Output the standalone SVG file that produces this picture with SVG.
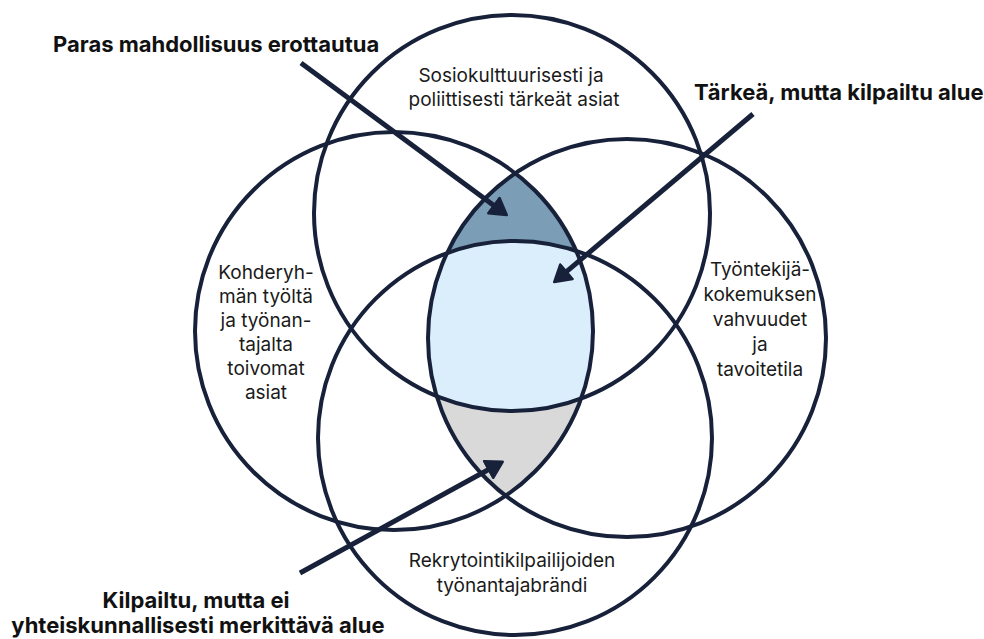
<svg xmlns="http://www.w3.org/2000/svg" width="984" height="639" viewBox="0 0 984 639">
  <style>
    .ring { fill: none; stroke: #18213a; stroke-width: 4; }
    .lbl { font-family: Inter, "Liberation Sans", sans-serif; font-size: 19px; fill: #1a1a1a; text-anchor: middle; letter-spacing: 0px; }
    .call { font-family: Inter, "Liberation Sans", sans-serif; font-size: 22px; font-weight: 700; fill: #111111; letter-spacing: 0px; }
    .arrow { stroke: #18213a; stroke-width: 5; fill: none; marker-end: url(#head); }
  </style>
  <defs>
    <marker id="head" viewBox="0 0 19 22" markerUnits="userSpaceOnUse" markerWidth="19" markerHeight="22" refX="1" refY="11" orient="auto">
      <path d="M1.5,1.5 L17.5,11 L1.5,20.5 Z" fill="#18213a" stroke="#18213a" stroke-width="2.5" stroke-linejoin="round"/>
    </marker>
    <clipPath id="cT"><circle cx="512" cy="213" r="198"/></clipPath>
    <clipPath id="cL"><circle cx="394" cy="331" r="199"/></clipPath>
    <clipPath id="cR"><circle cx="627" cy="338" r="199"/></clipPath>
    <clipPath id="cB"><circle cx="515" cy="438" r="197"/></clipPath>
  </defs>
  <rect width="984" height="639" fill="#ffffff"/>

  <g id="regions" clip-path="url(#cL)">
    <g clip-path="url(#cR)">
      <g clip-path="url(#cT)"><rect x="300" y="100" width="400" height="450" fill="#7b9db6"/></g>
      <g clip-path="url(#cB)"><rect x="300" y="100" width="400" height="450" fill="#d9d9d9"/></g>
      <g clip-path="url(#cT)"><g clip-path="url(#cB)"><rect x="300" y="100" width="400" height="450" fill="#daeefc"/></g></g>
    </g>
  </g>

  <g id="top-circle">
    <circle class="ring" cx="512" cy="213" r="198"/>
    <text class="lbl" x="511" y="82">Sosiokulttuurisesti ja</text>
    <text class="lbl" x="514" y="106">poliittisesti tärkeät asiat</text>
  </g>
  <g id="left-circle">
    <circle class="ring" cx="394" cy="331" r="199"/>
    <text class="lbl" x="266" y="279">Kohderyh-</text>
    <text class="lbl" x="266" y="303">män työltä</text>
    <text class="lbl" x="266" y="327">ja työnan-</text>
    <text class="lbl" x="266" y="351">tajalta</text>
    <text class="lbl" x="266" y="375">toivomat</text>
    <text class="lbl" x="266" y="399">asiat</text>
  </g>
  <g id="right-circle">
    <circle class="ring" cx="627" cy="338" r="199"/>
    <text class="lbl" x="760" y="276">Työntekijä-</text>
    <text class="lbl" x="760" y="301">kokemuksen</text>
    <text class="lbl" x="760" y="326">vahvuudet</text>
    <text class="lbl" x="760" y="351">ja</text>
    <text class="lbl" x="760" y="376">tavoitetila</text>
  </g>
  <g id="bottom-circle">
    <circle class="ring" cx="515" cy="438" r="197"/>
    <text class="lbl" x="512" y="567">Rekrytointikilpailijoiden</text>
    <text class="lbl" x="512" y="592">työnantajabrändi</text>
  </g>

  <g id="connectors">
    <line class="arrow" x1="301" y1="63" x2="493.5" y2="205.3"/>
    <line class="arrow" x1="753" y1="114" x2="566.8" y2="271.4"/>
    <line class="arrow" x1="300" y1="573" x2="488.2" y2="469.7"/>
  </g>

  <g id="callout-best">
    <text class="call" x="53" y="52">Paras mahdollisuus erottautua</text>
  </g>
  <g id="callout-important">
    <text class="call" x="694" y="100">Tärkeä, mutta kilpailtu alue</text>
  </g>
  <g id="callout-competed">
    <text class="call" x="196" y="608" text-anchor="middle">Kilpailtu, mutta ei</text>
    <text class="call" x="198" y="633" text-anchor="middle">yhteiskunnallisesti merkittävä alue</text>
  </g>
</svg>
